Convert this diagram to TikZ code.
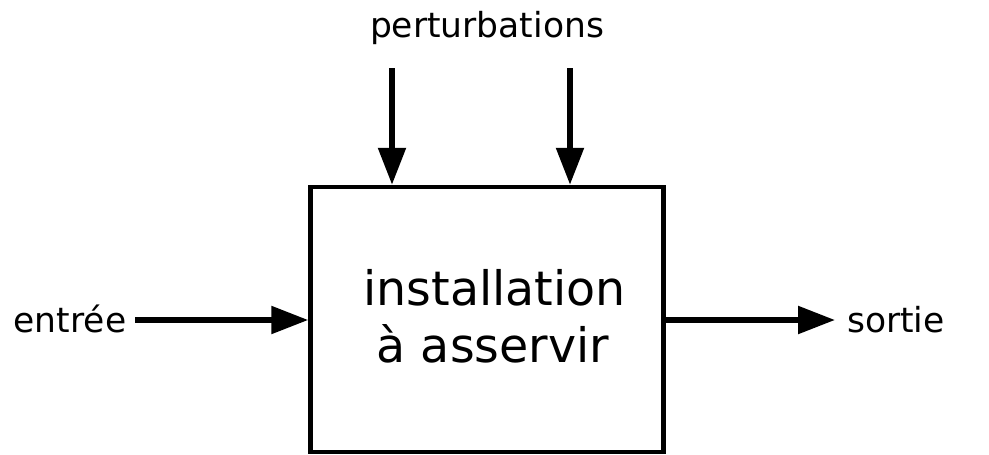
\documentclass[tikz,border=0pt]{standalone}
\usepackage{fontspec}
\setmainfont{DejaVu Sans}
\usetikzlibrary{arrows.meta}
\begin{document}
\begin{tikzpicture}[x=1pt,y=-1pt,
 arr/.style={line width=5.5pt,-{Triangle[length=37pt,width=27pt]}},
 lbl/.style={font=\fontsize{34.5}{40}\selectfont, anchor=base, inner sep=0pt},
 big/.style={font=\fontsize{47.5}{57}\selectfont, anchor=base, inner sep=0pt},
 blk/.style={draw, line width=4.5pt, minimum width=353pt, minimum height=265pt, inner sep=0pt}]
\useasboundingbox (0,0) rectangle (989,455);
\node[blk] (box) at (487,319.5) {};
\node[big] (t1) at (494.5,305) {installation};
\node[big] (t2) at (493,362) {à asservir};
\node[lbl] (pert) at (487,37) {perturbations};
\node[lbl] (entree) at (70,332) {entrée};
\node[lbl] (sortie) at (896,332) {sortie};
\coordinate (p1) at (392,68);
\coordinate (p2) at (570,68);
\coordinate (in) at (135,320);
\coordinate (out) at (835,320);
\draw[arr] (p1) -- (p1 |- box.north);
\draw[arr] (p2) -- (p2 |- box.north);
\draw[arr] (in) -- (in -| box.west);
\draw[arr] (out -| box.east) -- (out);
\end{tikzpicture}
\end{document}
